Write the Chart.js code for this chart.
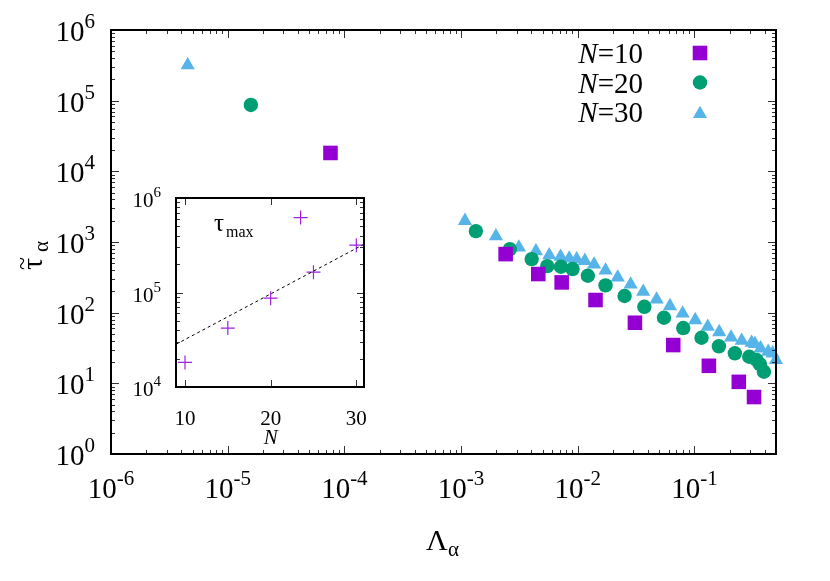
<!DOCTYPE html>
<html>
<head>
<meta charset="utf-8">
<script src="https://cdn.jsdelivr.net/npm/chart.js@4.4.0/dist/chart.umd.min.js"></script>
<style>
  body { margin: 0; background: #fff; }
  #wrap { position: relative; width: 830px; height: 581px; }
  #main { position: absolute; left: 0; top: 0; }
  #inset { position: absolute; left: 112px; top: 180px; }
</style>
</head>
<body>
<div id="wrap">
<canvas id="main" width="830" height="581"></canvas>
<canvas id="inset" width="270" height="270"></canvas>
</div>
<script>
// main plot data
const lambda10 = [7.6e-5, 2.41e-3, 4.59e-3, 7.28e-3, 1.42e-2, 3.09e-2, 6.58e-2, 0.133, 0.240, 0.324];
const tau10 = [1.82e4, 674, 352, 268, 151, 72, 34.8, 17.7, 10.5, 6.4];
const lambda20 = [1.58e-5, 1.34e-3, 2.62e-3, 4.03e-3, 5.48e-3, 7.18e-3, 9.03e-3, 1.22e-2, 1.73e-2, 2.52e-2,
    3.72e-2, 5.48e-2, 8.02e-2, 0.115, 0.162, 0.222, 0.295, 0.341, 0.364, 0.394];
const tau20 = [8.7e4, 1426, 794, 573, 456, 446, 414, 333, 243, 172,
    121, 84.7, 60.6, 44.2, 33.4, 26.6, 23.8, 21.4, 18.7, 14.6];
const lambda30 = [4.54e-6, 1.08e-3, 1.99e-3, 3.13e-3, 4.38e-3, 5.70e-3, 7.13e-3, 8.45e-3, 9.79e-3, 1.15e-2,
    1.38e-2, 1.73e-2, 2.20e-2, 2.84e-2, 3.64e-2, 4.74e-2, 6.17e-2, 7.92e-2, 0.1016, 0.130,
    0.163, 0.206, 0.254, 0.309, 0.330, 0.369, 0.429, 0.468, 0.499];
const tau30 = [3.17e5, 1995, 1211, 839, 743, 653, 618, 586, 573, 542,
    482, 396, 316, 251, 198, 154, 124, 97.7, 78.6, 63.2,
    53.2, 44.7, 40.1, 37.5, 36, 31.3, 28.0, 26.6, 21.4];
const seriesNames = ['10', '20', '30'];

// inset data
const insetN = [10, 15, 20, 23.5, 25, 30];
const insetTau = [1.82e4, 4.2e4, 8.7e4, 6.2e5, 1.64e5, 3.17e5];
const fitN = [8.95, 30.9];
const fitTau = [2.83e4, 3.24e5];

// tick labels
const xTickExp = [-6, -5, -4, -3, -2, -1];
const yTickExp = [0, 1, 2, 3, 4, 5, 6];
const insetXTicks = [10, 20, 30];
const insetYTickExp = [4, 5, 6];

const FONT = '"Liberation Serif", "DejaVu Serif", serif';
const colors = ['#9400d3', '#009e73', '#56b4e9'];
const styles = ['rect', 'circle', 'triangle'];
const radii = [10.3, 7.2, 8.2];

function pts(xs, ys){
    return xs.map((x, i) => ({x: x, y: ys[i]}));
}

function powLabel(ctx, exp, x, y, align, big, small, raise){
    ctx.font = big + 'px ' + FONT;
    const w1 = ctx.measureText('10').width;
    ctx.font = small + 'px ' + FONT;
    const w2 = ctx.measureText(exp).width;
    let x0 = x;
    if (align === 'center') x0 = x - (w1 + w2) / 2;
    if (align === 'right') x0 = x - (w1 + w2);
    ctx.textAlign = 'left';
    ctx.textBaseline = 'alphabetic';
    ctx.font = big + 'px ' + FONT;
    ctx.fillText('10', x0, y);
    ctx.font = small + 'px ' + FONT;
    ctx.fillText(exp, x0 + w1, y - raise);
}

function logTickValues(min, max){
    const out = [];
    for (let e = Math.floor(Math.log10(min)); e <= Math.ceil(Math.log10(max)); e++) {
        for (let m = 1; m <= 9; m++) {
            const v = m * Math.pow(10, e);
            if (v >= min * 0.9999 && v <= max * 1.0001) out.push({v: v, major: m === 1});
        }
    }
    return out;
}

function drawFrame(chart, xTicks, yTicks, majorLen, minorLen){
    const ctx = chart.ctx;
    const a = chart.chartArea;
    const xs = chart.scales.x, ys = chart.scales.y;
    ctx.save();
    ctx.strokeStyle = '#333';
    ctx.lineWidth = 1;
    ctx.beginPath();
    xTicks.forEach(t => {
        const px = Math.round(xs.getPixelForValue(t.v)) + 0.5;
        const len = t.major ? majorLen : minorLen;
        ctx.moveTo(px, a.bottom); ctx.lineTo(px, a.bottom - len);
        ctx.moveTo(px, a.top); ctx.lineTo(px, a.top + len);
    });
    yTicks.forEach(t => {
        const py = Math.round(ys.getPixelForValue(t.v)) + 0.5;
        const len = t.major ? majorLen : minorLen;
        ctx.moveTo(a.left, py); ctx.lineTo(a.left + len, py);
        ctx.moveTo(a.right, py); ctx.lineTo(a.right - len, py);
    });
    ctx.stroke();
    ctx.strokeStyle = '#000';
    ctx.lineWidth = 2;
    ctx.strokeRect(a.left, a.top, a.right - a.left, a.bottom - a.top);
    ctx.restore();
}

const mainDecor = {
    id: 'mainDecor',
    afterDraw(chart){
        const ctx = chart.ctx;
        const a = chart.chartArea;
        const xs = chart.scales.x, ys = chart.scales.y;
        drawFrame(chart, logTickValues(xs.min, xs.max), logTickValues(ys.min, ys.max), 8, 4);
        ctx.save();
        ctx.fillStyle = '#000';
        xTickExp.forEach(e => powLabel(ctx, String(e), xs.getPixelForValue(Math.pow(10, e)), a.bottom + 44, 'center', 29, 21, 13));
        yTickExp.forEach(e => powLabel(ctx, String(e), 95, ys.getPixelForValue(Math.pow(10, e)) + 11, 'right', 29, 21, 13));

        // x title
        ctx.font = '30px ' + FONT;
        const wl = ctx.measureText('Λ').width;
        ctx.textAlign = 'left';
        ctx.fillText('Λ', 443 - (wl + 12) / 2, 550);
        ctx.font = '21px ' + FONT;
        ctx.fillText('α', 443 - (wl + 12) / 2 + wl, 556);

        // y title, rotated
        ctx.translate(42, 262);
        ctx.rotate(-Math.PI / 2);
        ctx.font = '30px ' + FONT;
        ctx.fillText('τ', -8, 0);
        ctx.font = '24px ' + FONT;
        ctx.fillText('~', -8, -12);
        ctx.font = '21px ' + FONT;
        ctx.fillText('α', 10, 6);
        ctx.setTransform(1, 0, 0, 1, 0, 0);

        // legend: text left, symbol right
        seriesNames.forEach((n, i) => {
            const base = 63 + i * 29.5;
            ctx.font = '29px ' + FONT;
            const wRest = ctx.measureText('=' + n).width;
            ctx.font = 'italic 29px ' + FONT;
            const wN = ctx.measureText('N').width;
            const x0 = 643 - wRest - wN;
            ctx.fillText('N', x0, base);
            ctx.font = '29px ' + FONT;
            ctx.fillText('=' + n, x0 + wN, base);
            ctx.fillStyle = colors[i];
            Chart.helpers.drawPoint(ctx, {pointStyle: styles[i], radius: radii[i], rotation: 0, borderWidth: 0},
                700, base - 10 + (i === 2 ? 2 : 0));
            ctx.fillStyle = '#000';
        });
        ctx.restore();
    }
};

new Chart(document.getElementById('main'), {
    type: 'scatter',
    data: {
        datasets: [
            {data: pts(lambda10, tau10), pointStyle: styles[0], pointRadius: radii[0], backgroundColor: colors[0], borderWidth: 0, clip: false},
            {data: pts(lambda20, tau20), pointStyle: styles[1], pointRadius: radii[1], backgroundColor: colors[1], borderWidth: 0, clip: false},
            {data: pts(lambda30, tau30), pointStyle: styles[2], pointRadius: radii[2], backgroundColor: colors[2], borderWidth: 0, clip: false}
        ]
    },
    options: {
        responsive: false,
        animation: false,
        devicePixelRatio: 1,
        layout: {padding: {left: 111, top: 30, right: 54, bottom: 127}},
        scales: {
            x: {type: 'logarithmic', min: 1e-6, max: 0.5, display: false},
            y: {type: 'logarithmic', min: 1, max: 1e6, display: false}
        },
        plugins: {legend: {display: false}, tooltip: {enabled: false}}
    },
    plugins: [mainDecor]
});

const insetDecor = {
    id: 'insetDecor',
    afterDraw(chart){
        const ctx = chart.ctx;
        const a = chart.chartArea;
        const xs = chart.scales.x, ys = chart.scales.y;
        drawFrame(chart, insetXTicks.map(v => ({v: v, major: true})), logTickValues(ys.min, ys.max), 7, 4);
        ctx.save();
        ctx.fillStyle = '#000';
        insetYTickExp.forEach(e => powLabel(ctx, String(e), a.left - 15, ys.getPixelForValue(Math.pow(10, e)) + 9, 'right', 21, 15, 10));
        ctx.font = '21px ' + FONT;
        ctx.textAlign = 'center';
        insetXTicks.forEach(v => ctx.fillText(String(v), xs.getPixelForValue(v), a.bottom + 38));
        ctx.font = 'italic 21px ' + FONT;
        ctx.fillText('N', xs.getPixelForValue(20), a.bottom + 57);
        ctx.textAlign = 'left';
        ctx.font = '25px ' + FONT;
        ctx.fillText('τ', a.left + 38, a.top + 33);
        ctx.font = '16px ' + FONT;
        ctx.fillText('max', a.left + 50, a.top + 39);
        ctx.restore();
    }
};

new Chart(document.getElementById('inset'), {
    type: 'scatter',
    data: {
        datasets: [
            {type: 'line', data: pts(fitN, fitTau), borderColor: '#000', borderWidth: 1, borderDash: [3, 3], pointRadius: 0, fill: false},
            {data: pts(insetN, insetTau), pointStyle: 'cross', pointRadius: 7, borderColor: '#a020e0', borderWidth: 1.2, backgroundColor: '#a020e0', clip: false}
        ]
    },
    options: {
        responsive: false,
        animation: false,
        devicePixelRatio: 1,
        layout: {padding: {left: 64, top: 18, right: 18, bottom: 63}},
        scales: {
            x: {type: 'linear', min: 8.95, max: 30.9, display: false},
            y: {type: 'logarithmic', min: 1e4, max: 1e6, display: false}
        },
        plugins: {legend: {display: false}, tooltip: {enabled: false}}
    },
    plugins: [insetDecor]
});
</script>
</body>
</html>
